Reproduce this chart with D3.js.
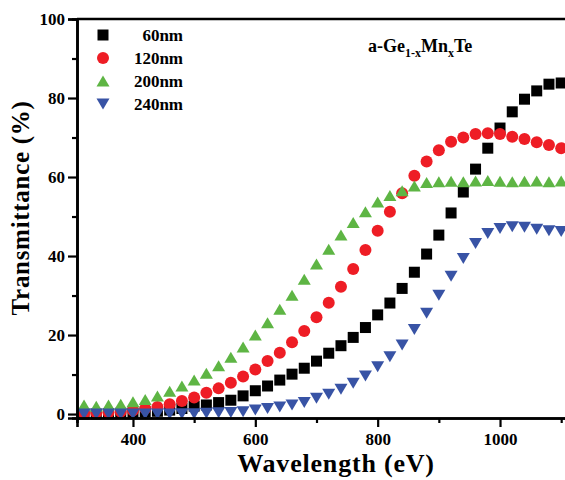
<!DOCTYPE html>
<html>
<head>
<meta charset="utf-8">
<script src="https://cdn.jsdelivr.net/npm/d3@7"></script>
<style>
  body { margin: 0; background: #fff; }
  svg { display: block; font-family: "Liberation Serif", "DejaVu Serif", serif; font-weight: bold; }
</style>
</head>
<body>
<svg id="chart" width="565" height="480"></svg>
<script>
// wavelength (nm), one point every 20
const wavelength = [320, 340, 360, 380, 400, 420, 440, 460, 480, 500,
  520, 540, 560, 580, 600, 620, 640, 660, 680, 700,
  720, 740, 760, 780, 800, 820, 840, 860, 880, 900,
  920, 940, 960, 980, 1000, 1020, 1040, 1060, 1080, 1100];

const t60 = [0.0, 0.0, 0.1, 0.2, 0.3, 0.5, 0.7, 1.0, 1.4, 2.0,
  2.3, 2.9, 3.5, 4.6, 5.9, 7.1, 8.6, 10.1, 11.6, 13.4,
  15.4, 17.3, 19.4, 21.9, 25.1, 28.1, 31.8, 35.9, 40.5, 45.3,
  50.9, 56.2, 62.0, 67.3, 72.4, 76.5, 79.7, 81.8, 83.5, 83.8];

const t120 = [0.2, 0.3, 0.4, 0.6, 0.9, 1.4, 1.8, 2.5, 3.3, 4.2,
  5.4, 6.5, 7.9, 9.5, 11.3, 13.4, 15.5, 18.2, 21.0, 24.5,
  28.2, 32.2, 36.7, 41.5, 46.4, 51.2, 55.9, 60.3, 63.9, 66.8,
  68.9, 70.0, 70.9, 71.1, 70.9, 70.2, 69.6, 68.8, 68.1, 67.3];

const t200 = [2.3, 2.0, 2.3, 2.5, 3.1, 3.7, 4.6, 5.8, 7.1, 8.6,
  10.3, 12.2, 14.4, 17.0, 20.0, 23.1, 26.5, 30.1, 34.1, 38.0,
  41.7, 45.3, 48.5, 51.2, 53.7, 55.3, 56.5, 57.7, 58.6, 58.8,
  58.9, 58.8, 59.0, 59.1, 58.9, 58.8, 58.9, 59.0, 58.8, 59.0];

const t240 = [0.0, 0.0, 0.0, 0.0, 0.0, 0.0, 0.0, 0.0, 0.1, 0.1,
  0.2, 0.3, 0.4, 0.6, 1.0, 1.4, 1.8, 2.3, 2.9, 4.0,
  5.0, 6.3, 7.8, 9.6, 12.0, 14.5, 17.5, 21.4, 25.5, 30.1,
  34.9, 39.4, 43.2, 45.7, 47.0, 47.4, 47.3, 46.8, 46.4, 46.2];

const seriesNames = ["60nm", "120nm", "200nm", "240nm"];
const seriesValues = [t60, t120, t200, t240];
const seriesColors = ["#000000", "#ee1d25", "#5eb544", "#3853a5"];
const seriesShapes = ["square", "circle", "up", "down"];

const xTicks = [400, 600, 800, 1000];
const xMinor = [500, 700, 900, 1100];
const yTicks = [0, 20, 40, 60, 80, 100];
const yMinor = [10, 30, 50, 70, 90];

const svg = d3.select("#chart");
const margin = { left: 77, right: 570, top: 19, bottom: 418 };

const x = d3.scaleLinear().domain([308.5, 1114.4]).range([margin.left, margin.right]);
const y = d3.scaleLinear().domain([-1, 100]).range([margin.bottom, margin.top]);

// marker paths, centred on their box
function marker(shape) {
  if (shape === "square") return "M-5.5,-5.5h11v11h-11z";
  if (shape === "circle") return "M6,0A6,6 0 1,1 -6,0A6,6 0 1,1 6,0z";
  if (shape === "up") return "M0,-5.5L6.5,5.5L-6.5,5.5z";
  return "M0,5.5L6.5,-5.5L-6.5,-5.5z";
}

const plot = svg.append("g");
seriesValues.forEach((vals, i) => {
  plot.append("g")
    .selectAll("path")
    .data(vals.map((v, j) => [wavelength[j], v]))
    .join("path")
    .attr("d", marker(seriesShapes[i]))
    .attr("transform", d => `translate(${x(d[0])},${y(d[1])})`)
    .attr("fill", seriesColors[i]);
});

// axes
const xAxis = svg.append("g").attr("transform", `translate(0,${margin.bottom})`);
xAxis.call(d3.axisBottom(x).tickValues(xTicks).tickSize(9).tickPadding(6).tickFormat(d3.format("d")));
xAxis.append("g").call(d3.axisBottom(x).tickValues(xMinor).tickSize(5).tickFormat(""));

const yAxis = svg.append("g").attr("transform", `translate(${margin.left},0)`);
yAxis.call(d3.axisLeft(y).tickValues(yTicks).tickSize(9).tickPadding(3).tickFormat(d3.format("d")));
yAxis.append("g").call(d3.axisLeft(y).tickValues(yMinor).tickSize(5).tickFormat(""));

svg.selectAll(".domain").attr("stroke", "#000").attr("stroke-width", 2.6);
svg.selectAll(".tick line").attr("stroke", "#000").attr("stroke-width", 2.2);
svg.selectAll(".tick text")
  .attr("font-family", "Liberation Serif, serif")
  .attr("font-weight", "bold")
  .attr("font-size", 17)
  .attr("fill", "#000");

// top frame line
svg.append("line")
  .attr("x1", margin.left).attr("x2", margin.right)
  .attr("y1", margin.top).attr("y2", margin.top)
  .attr("stroke", "#000").attr("stroke-width", 2.6);

// axis titles
svg.append("text")
  .attr("x", 336).attr("y", 472)
  .attr("text-anchor", "middle")
  .attr("font-size", 26)
  .attr("letter-spacing", 0.8)
  .text("Wavelength (eV)");

svg.append("text")
  .attr("transform", "translate(29,208) rotate(-90)")
  .attr("text-anchor", "middle")
  .attr("font-size", 25)
  .attr("letter-spacing", 0.7)
  .text("Transmittance (%)");

// legend
const legend = svg.append("g");
seriesNames.forEach((name, i) => {
  const ly = 35 + i * 23;
  legend.append("path")
    .attr("d", marker(seriesShapes[i]))
    .attr("transform", `translate(103,${ly})`)
    .attr("fill", seriesColors[i]);
  legend.append("text")
    .attr("x", 183).attr("y", ly + 6)
    .attr("text-anchor", "end")
    .attr("font-size", 17)
    .text(name);
});

// composition label
const lbl = svg.append("text").attr("x", 368).attr("y", 52).attr("font-size", 18);
lbl.append("tspan").text("a-Ge");
lbl.append("tspan").attr("font-size", 12).attr("dy", 5).text("1-x");
lbl.append("tspan").attr("dy", -5).text("Mn");
lbl.append("tspan").attr("font-size", 12).attr("dy", 5).text("x");
lbl.append("tspan").attr("dy", -5).text("Te");
</script>
</body>
</html>
